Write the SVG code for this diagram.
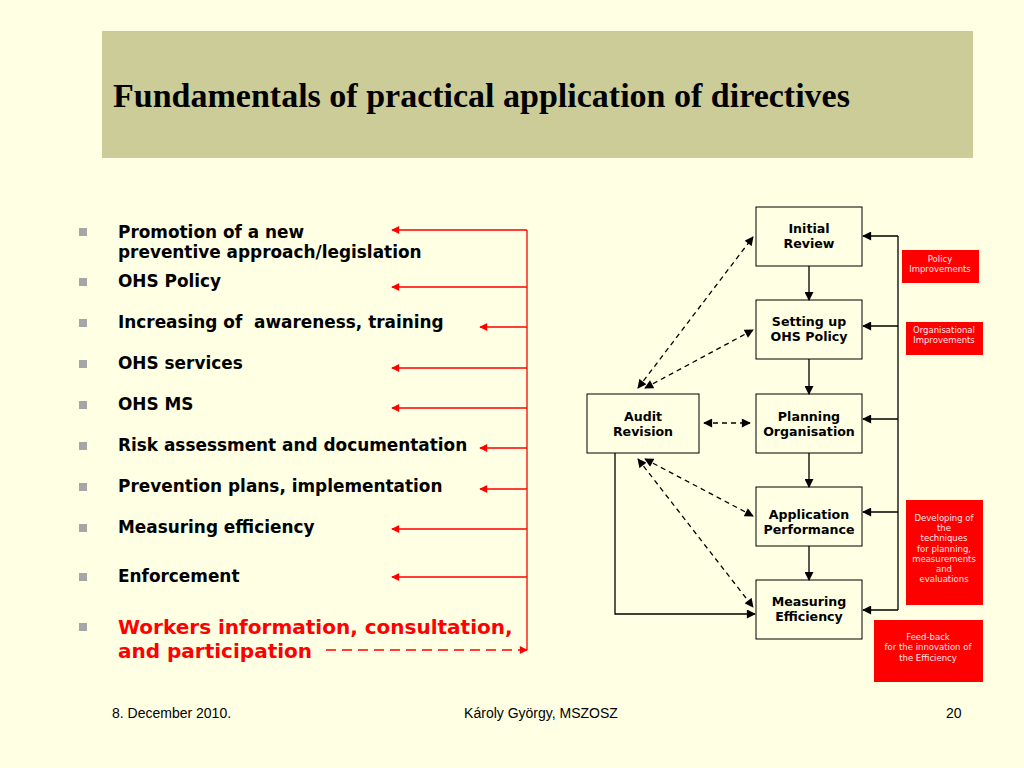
<svg xmlns="http://www.w3.org/2000/svg" width="1024" height="768" viewBox="0 0 1024 768">
<defs>
<style>
.bul{font-family:"DejaVu Sans",Verdana,sans-serif;font-weight:bold;font-size:16.9px;fill:#000}
.red{fill:#FF0000;font-size:20px}
.sq{fill:#A6A6A6}
.box{fill:#FFFFE3;stroke:#000;stroke-width:1}
.bt{font-family:"DejaVu Sans",Verdana,sans-serif;font-weight:bold;font-size:12.6px;fill:#000;text-anchor:middle}
.rb{fill:#FF0000}
.rt{font-family:"DejaVu Sans",Verdana,sans-serif;font-size:8.5px;fill:#FFE6E6;text-anchor:middle}
.ft{font-family:"Liberation Sans",Arial,sans-serif;font-size:14px;fill:#000}
.rl{stroke:#FF0000;stroke-width:1.3;fill:none}
.bl{stroke:#000;stroke-width:1.3;fill:none}
.dl{stroke:#000;stroke-width:1.3;fill:none;stroke-dasharray:5,4}
</style>
<marker id="ra" viewBox="0 0 10 10" refX="9" refY="5" markerWidth="10" markerHeight="8" markerUnits="userSpaceOnUse" orient="auto-start-reverse"><path d="M0,0 L10,5 L0,10 z" fill="#FF0000"/></marker>
<marker id="ba" viewBox="0 0 10 10" refX="9" refY="5" markerWidth="10" markerHeight="9" markerUnits="userSpaceOnUse" orient="auto-start-reverse"><path d="M0,0 L10,5 L0,10 z" fill="#000"/></marker>
</defs>
<rect width="1024" height="768" fill="#FFFFE3"/>
<rect x="102" y="31" width="871" height="127" fill="#CCCC99"/>
<text x="113" y="107" font-family="'Liberation Serif','Times New Roman',serif" font-weight="bold" font-size="34" fill="#000">Fundamentals of practical application of directives</text>

<g id="bullets">
<rect class="sq" x="79" y="228" width="8" height="8"/>
<rect class="sq" x="79" y="278" width="8" height="8"/>
<rect class="sq" x="79" y="319" width="8" height="8"/>
<rect class="sq" x="79" y="360" width="8" height="8"/>
<rect class="sq" x="79" y="401" width="8" height="8"/>
<rect class="sq" x="79" y="442" width="8" height="8"/>
<rect class="sq" x="79" y="483" width="8" height="8"/>
<rect class="sq" x="79" y="524" width="8" height="8"/>
<rect class="sq" x="79" y="573" width="8" height="8"/>
<rect class="sq" x="79" y="623" width="8" height="8"/>
<text class="bul" x="118" y="238">Promotion of a new</text>
<text class="bul" x="118" y="258">preventive approach/legislation</text>
<text class="bul" x="118" y="287">OHS Policy</text>
<text class="bul" x="118" y="328" xml:space="preserve">Increasing of  awareness, training</text>
<text class="bul" x="118" y="369">OHS services</text>
<text class="bul" x="118" y="410">OHS MS</text>
<text class="bul" x="118" y="451">Risk assessment and documentation</text>
<text class="bul" x="118" y="492">Prevention plans, implementation</text>
<text class="bul" x="118" y="533">Measuring efficiency</text>
<text class="bul" x="118" y="582">Enforcement</text>
<text class="bul red" x="118" y="634">Workers information, consultation,</text>
<text class="bul red" x="118" y="658">and participation</text>
</g>

<g id="red-connectors">
<line class="rl" x1="527" y1="230" x2="527" y2="650"/>
<line class="rl" x1="527" y1="230" x2="392" y2="230" marker-end="url(#ra)"/>
<line class="rl" x1="527" y1="287" x2="392" y2="287" marker-end="url(#ra)"/>
<line class="rl" x1="527" y1="327" x2="480" y2="327" marker-end="url(#ra)"/>
<line class="rl" x1="527" y1="368" x2="392" y2="368" marker-end="url(#ra)"/>
<line class="rl" x1="527" y1="408" x2="392" y2="408" marker-end="url(#ra)"/>
<line class="rl" x1="527" y1="448" x2="480" y2="448" marker-end="url(#ra)"/>
<line class="rl" x1="527" y1="489" x2="480" y2="489" marker-end="url(#ra)"/>
<line class="rl" x1="527" y1="529" x2="392" y2="529" marker-end="url(#ra)"/>
<line class="rl" x1="527" y1="577" x2="392" y2="577" marker-end="url(#ra)"/>
<line class="rl" x1="326" y1="650" x2="527" y2="650" stroke-dasharray="10,6" marker-end="url(#ra)"/>
</g>

<g id="n-initial"><rect class="box" x="756" y="207" width="106" height="59"/><text class="bt" x="809" y="233">Initial</text><text class="bt" x="809" y="248">Review</text></g>
<g id="n-setting"><rect class="box" x="756" y="300" width="106" height="59"/><text class="bt" x="809" y="326">Setting up</text><text class="bt" x="809" y="341">OHS Policy</text></g>
<g id="n-planning"><rect class="box" x="756" y="394" width="106" height="59"/><text class="bt" x="809" y="421">Planning</text><text class="bt" x="809" y="436">Organisation</text></g>
<g id="n-application"><rect class="box" x="756" y="487" width="106" height="59"/><text class="bt" x="809" y="519">Application</text><text class="bt" x="809" y="534">Performance</text></g>
<g id="n-measuring"><rect class="box" x="756" y="580" width="106" height="59"/><text class="bt" x="809" y="606">Measuring</text><text class="bt" x="809" y="621">Efficiency</text></g>
<g id="n-audit"><rect class="box" x="587" y="394" width="112" height="59"/><text class="bt" x="643" y="421">Audit</text><text class="bt" x="643" y="436">Revision</text></g>

<g id="connectors">
<line class="bl" x1="809" y1="266" x2="809" y2="300" marker-end="url(#ba)"/>
<line class="bl" x1="809" y1="359" x2="809" y2="394" marker-end="url(#ba)"/>
<line class="bl" x1="809" y1="453" x2="809" y2="487" marker-end="url(#ba)"/>
<line class="bl" x1="809" y1="546" x2="809" y2="580" marker-end="url(#ba)"/>
<line class="bl" x1="898" y1="236" x2="898" y2="610"/>
<line class="bl" x1="898" y1="236" x2="863" y2="236" marker-end="url(#ba)"/>
<line class="bl" x1="898" y1="326" x2="863" y2="326" marker-end="url(#ba)"/>
<line class="bl" x1="898" y1="419" x2="863" y2="419" marker-end="url(#ba)"/>
<line class="bl" x1="898" y1="512" x2="863" y2="512" marker-end="url(#ba)"/>
<line class="bl" x1="898" y1="610" x2="863" y2="610" marker-end="url(#ba)"/>
<polyline class="bl" points="615,453 615,614 755,614" marker-end="url(#ba)"/>
<line class="dl" x1="704" y1="423" x2="750" y2="423" marker-start="url(#ba)" marker-end="url(#ba)"/>
<line class="dl" x1="638" y1="388" x2="753" y2="237" marker-start="url(#ba)" marker-end="url(#ba)"/>
<line class="dl" x1="645" y1="388" x2="753" y2="330" marker-start="url(#ba)" marker-end="url(#ba)"/>
<line class="dl" x1="645" y1="459" x2="753" y2="516" marker-start="url(#ba)" marker-end="url(#ba)"/>
<line class="dl" x1="638" y1="459" x2="753" y2="607" marker-start="url(#ba)" marker-end="url(#ba)"/>
</g>

<g id="r-policy"><rect class="rb" x="902" y="250" width="77" height="33"/><text class="rt" x="940" y="262">Policy</text><text class="rt" x="940" y="272">Improvements</text></g>
<g id="r-org"><rect class="rb" x="906" y="322" width="77" height="33"/><text class="rt" x="944" y="333">Organisational</text><text class="rt" x="944" y="343">Improvements</text></g>
<g id="r-dev"><rect class="rb" x="906" y="500" width="77" height="105"/><text class="rt" x="944" y="521">Developing of</text><text class="rt" x="944" y="531">the</text><text class="rt" x="944" y="541">techniques</text><text class="rt" x="944" y="552">for planning,</text><text class="rt" x="944" y="562">measurements</text><text class="rt" x="944" y="572">and</text><text class="rt" x="944" y="582">evaluations</text></g>
<g id="r-feed"><rect class="rb" x="874" y="620" width="109" height="62"/><text class="rt" x="928" y="640">Feed-back</text><text class="rt" x="928" y="650">for the innovation of</text><text class="rt" x="928" y="661">the Efficiency</text></g>

<text class="ft" x="112" y="718">8. December 2010.</text>
<text class="ft" x="541" y="718" text-anchor="middle">Károly György, MSZOSZ</text>
<text class="ft" x="946" y="718">20</text>
</svg>
